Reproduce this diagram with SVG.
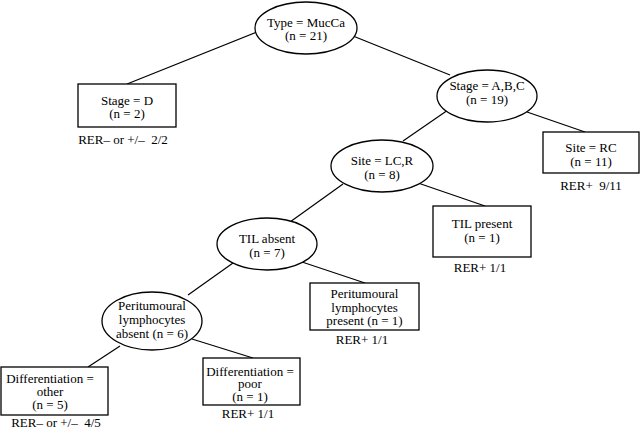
<svg xmlns="http://www.w3.org/2000/svg" width="640" height="429" viewBox="0 0 640 429">
<style>
  .n { fill: #fff; stroke: #000; stroke-width: 1.3; }
  .e { stroke: #000; stroke-width: 1.2; fill: none; }
  text { font-family: "Liberation Serif", "Times New Roman", serif; font-size: 13px; fill: #000; text-anchor: middle; }
</style>
<rect width="640" height="429" fill="#fff"/>
<g id="connectors">
  <line class="e" x1="257" y1="32" x2="127" y2="84"/>
  <line class="e" x1="353" y1="36" x2="450" y2="75"/>
  <line class="e" x1="448" y1="110" x2="403" y2="141"/>
  <line class="e" x1="527" y1="112" x2="585" y2="132"/>
  <line class="e" x1="418" y1="183" x2="485" y2="206"/>
  <line class="e" x1="343" y1="184" x2="290" y2="222"/>
  <line class="e" x1="302" y1="262" x2="365" y2="283"/>
  <line class="e" x1="233" y1="263" x2="188" y2="295"/>
  <line class="e" x1="120" y1="346" x2="88" y2="367"/>
  <line class="e" x1="192" y1="339" x2="253" y2="358"/>
</g>
<g id="root">
  <ellipse class="n" cx="306" cy="28" rx="51" ry="26"/>
  <text x="306" y="26.5">Type = MucCa</text>
  <text x="306" y="39.5">(n = 21)</text>
</g>
<g id="stageD">
  <rect class="n" x="78" y="84" width="98" height="43"/>
  <text x="127" y="104.5">Stage = D</text>
  <text x="127" y="117.5">(n = 2)</text>
  <text x="123" y="143.5">RER– or +/–&#160; 2/2</text>
</g>
<g id="stageABC">
  <ellipse class="n" cx="487" cy="96" rx="50" ry="26"/>
  <text x="487" y="89.5">Stage = A,B,C</text>
  <text x="487" y="104">(n = 19)</text>
</g>
<g id="siteRC">
  <rect class="n" x="543" y="132" width="96" height="41"/>
  <text x="591" y="151.5">Site = RC</text>
  <text x="591" y="165.5">(n = 11)</text>
  <text x="591" y="189.5">RER+&#160; 9/11</text>
</g>
<g id="siteLCR">
  <ellipse class="n" cx="382" cy="166" rx="51" ry="26"/>
  <text x="382" y="164.5">Site = LC,R</text>
  <text x="382" y="178.5">(n = 8)</text>
</g>
<g id="tilPresent">
  <rect class="n" x="433" y="206" width="98" height="51"/>
  <text x="482" y="227.5">TIL present</text>
  <text x="482" y="241.5">(n = 1)</text>
  <text x="480" y="271.5">RER+ 1/1</text>
</g>
<g id="tilAbsent">
  <ellipse class="n" cx="267" cy="244" rx="50" ry="26"/>
  <text x="267" y="242.5">TIL absent</text>
  <text x="267" y="257">(n = 7)</text>
</g>
<g id="periPresent">
  <rect class="n" x="310" y="283" width="109" height="47"/>
  <text x="364.5" y="298">Peritumoural</text>
  <text x="364.5" y="311.5">lymphocytes</text>
  <text x="364.5" y="325">present (n = 1)</text>
  <text x="362" y="343.5">RER+ 1/1</text>
</g>
<g id="periAbsent">
  <ellipse class="n" cx="152" cy="321" rx="50" ry="29"/>
  <text x="152" y="309.5">Peritumoural</text>
  <text x="152" y="323.5">lymphocytes</text>
  <text x="152" y="337.5">absent (n = 6)</text>
</g>
<g id="diffOther">
  <rect class="n" x="1" y="367" width="107" height="48"/>
  <text x="50" y="382.5">Differentiation =</text>
  <text x="50" y="395.5">other</text>
  <text x="50" y="408.5">(n = 5)</text>
  <text x="56" y="426.5">RER– or +/–&#160; 4/5</text>
</g>
<g id="diffPoor">
  <rect class="n" x="203" y="358" width="97" height="47"/>
  <text x="250" y="375.5">Differentiation =</text>
  <text x="250" y="388">poor</text>
  <text x="250" y="400.5">(n = 1)</text>
  <text x="248" y="417.5">RER+ 1/1</text>
</g>
</svg>
